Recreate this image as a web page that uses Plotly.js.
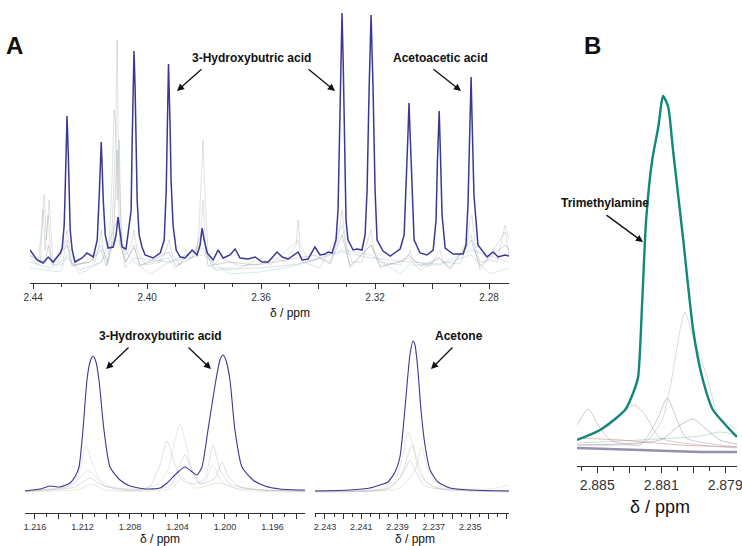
<!DOCTYPE html>
<html><head><meta charset="utf-8">
<script src="https://cdn.plot.ly/plotly-3.0.1.min.js"></script>
<style>html,body{margin:0;padding:0;background:#fff}#c{width:742px;height:546px}</style>
</head><body><div id="c"></div>
<script>
// ---------- Panel A (top) : 2.44 - 2.27 ppm, [ppm, intensity] ----------
const topBlue = [[2.4411,33],[2.4386,23],[2.4365,20],[2.4347,26],[2.4330,21],[2.4305,30],[2.4298,35],[2.4291,58],[2.4288,88],[2.4284,133],[2.4281,167],[2.4277,133],[2.4274,83],[2.4270,53],[2.4263,33],[2.4253,21],[2.4228,25],[2.4211,30],[2.4189,26],[2.4175,43],[2.4168,88],[2.4165,118],[2.4161,141],[2.4158,118],[2.4154,83],[2.4147,48],[2.4137,35],[2.4119,36],[2.4109,48],[2.4102,66],[2.4095,48],[2.4088,36],[2.4074,34],[2.4056,73],[2.4053,133],[2.4049,193],[2.4046,232],[2.4042,193],[2.4039,133],[2.4035,83],[2.4028,48],[2.4018,36],[2.4007,28],[2.3979,25],[2.3954,30],[2.3940,43],[2.3933,93],[2.3930,143],[2.3925,219],[2.3919,153],[2.3916,103],[2.3909,58],[2.3898,33],[2.3884,26],[2.3867,25],[2.3842,33],[2.3825,28],[2.3814,38],[2.3807,55],[2.3800,43],[2.3789,30],[2.3768,23],[2.3751,33],[2.3733,25],[2.3709,28],[2.3691,34],[2.3674,25],[2.3646,24],[2.3621,26],[2.3596,21],[2.3575,21],[2.3544,31],[2.3526,26],[2.3505,24],[2.3470,31],[2.3456,23],[2.3435,24],[2.3411,36],[2.3393,28],[2.3375,29],[2.3365,31],[2.3351,30],[2.3337,43],[2.3330,73],[2.3325,133],[2.3319,223],[2.3316,270],[2.3312,223],[2.3307,133],[2.3302,63],[2.3295,43],[2.3277,33],[2.3263,34],[2.3246,33],[2.3235,48],[2.3228,93],[2.3221,193],[2.3214,268],[2.3207,193],[2.3200,93],[2.3193,43],[2.3172,32],[2.3147,27],[2.3130,30],[2.3112,34],[2.3098,48],[2.3091,93],[2.3084,153],[2.3081,180],[2.3077,153],[2.3070,88],[2.3063,43],[2.3042,30],[2.3018,28],[2.2996,33],[2.2986,63],[2.2981,123],[2.2975,172],[2.2970,123],[2.2965,68],[2.2954,35],[2.2926,29],[2.2891,29],[2.2881,38],[2.2874,78],[2.2867,163],[2.2863,206],[2.2860,168],[2.2853,88],[2.2839,38],[2.2807,26],[2.2786,31],[2.2768,26],[2.2744,28],[2.2730,27]];

const topG1 = [[2.4411,28],[2.4375,21],[2.4365,73],[2.4358,33],[2.4347,68],[2.4337,21],[2.4312,21],[2.4291,38],[2.4281,53],[2.4270,33],[2.4253,18],[2.4218,21],[2.4200,25],[2.4182,21],[2.4168,38],[2.4161,53],[2.4154,33],[2.4137,21],[2.4126,33],[2.4119,83],[2.4112,133],[2.4105,243],[2.4102,153],[2.4095,83],[2.4088,38],[2.4074,28],[2.4056,38],[2.4046,53],[2.4035,33],[2.4007,18],[2.3954,21],[2.3933,33],[2.3923,43],[2.3912,28],[2.3884,18],[2.3863,33],[2.3849,25],[2.3828,28],[2.3818,53],[2.3807,123],[2.3804,143],[2.3796,83],[2.3786,28],[2.3765,18],[2.3744,25],[2.3709,21],[2.3674,17],[2.3604,19],[2.3551,25],[2.3516,21],[2.3477,38],[2.3470,63],[2.3463,38],[2.3428,21],[2.3393,25],[2.3358,21],[2.3330,43],[2.3316,73],[2.3302,38],[2.3281,21],[2.3246,21],[2.3225,43],[2.3214,53],[2.3204,33],[2.3182,21],[2.3112,18],[2.3084,28],[2.3077,33],[2.3070,23],[2.3007,17],[2.2982,28],[2.2972,33],[2.2961,21],[2.2902,19],[2.2877,38],[2.2867,63],[2.2860,68],[2.2849,38],[2.2832,21],[2.2796,23],[2.2772,21],[2.2744,58],[2.2730,43]];

const topG2 = [[2.4411,25],[2.4382,18],[2.4361,88],[2.4354,43],[2.4344,83],[2.4330,18],[2.4298,18],[2.4281,43],[2.4263,18],[2.4200,21],[2.4161,38],[2.4137,18],[2.4123,103],[2.4116,173],[2.4109,158],[2.4105,83],[2.4098,143],[2.4091,53],[2.4077,21],[2.4046,35],[2.4025,18],[2.3926,25],[2.3902,15],[2.3814,38],[2.3804,83],[2.3793,33],[2.3772,15],[2.3674,15],[2.3596,25],[2.3568,18],[2.3470,43],[2.3456,21],[2.3393,15],[2.3316,58],[2.3288,15],[2.3214,38],[2.3182,15],[2.3081,25],[2.3042,13],[2.2975,25],[2.2937,13],[2.2863,48],[2.2832,13],[2.2744,51],[2.2730,28]];

const topG3 = [[2.4411,15],[2.4305,11],[2.4281,28],[2.4235,9],[2.4161,21],[2.4105,43],[2.4046,21],[2.3989,9],[2.3923,21],[2.3804,28],[2.3709,9],[2.3604,11],[2.3470,18],[2.3316,33],[2.3214,28],[2.3112,9],[2.3081,18],[2.2975,18],[2.2863,28],[2.2796,9],[2.2730,15]];

const topG4 = [[2.4411,27],[2.4358,21],[2.4347,38],[2.4333,18],[2.4281,38],[2.4263,17],[2.4200,21],[2.4161,33],[2.4144,17],[2.4119,43],[2.4105,133],[2.4095,38],[2.4074,21],[2.4046,38],[2.4025,17],[2.3923,31],[2.3898,17],[2.3842,25],[2.3804,53],[2.3786,17],[2.3709,21],[2.3621,18],[2.3551,21],[2.3470,25],[2.3411,28],[2.3358,19],[2.3316,48],[2.3288,17],[2.3214,38],[2.3182,17],[2.3112,21],[2.3081,28],[2.3042,17],[2.2975,25],[2.2937,15],[2.2863,43],[2.2832,17],[2.2744,38],[2.2730,33]];

const topG5 = [[2.4411,21],[2.4340,15],[2.4281,25],[2.4235,13],[2.4161,21],[2.4105,63],[2.4077,15],[2.4046,25],[2.3923,21],[2.3804,35],[2.3761,13],[2.3604,15],[2.3470,19],[2.3316,31],[2.3214,25],[2.3081,21],[2.2975,19],[2.2863,33],[2.2730,21]];

const topTickVals = [2.44,2.42,2.40,2.38,2.36,2.34,2.32,2.30,2.28];
const topTickText = ['2.44','','2.40','','2.36','','2.32','','2.28'];

// ---------- Bottom left : 1.217 - 1.193 ppm ----------
const blPpm = [1.21684,1.21558,1.21474,1.21389,1.21305,1.21255,1.21229,1.21196,1.21162,1.21137,1.21112,1.21086,1.21061,1.21019,1.20968,1.20884,1.20800,1.20674,1.20547,1.20488,1.20404,1.20337,1.20286,1.20236,1.20194,1.20143,1.20076,1.20042,1.20017,1.19992,1.19958,1.19916,1.19857,1.19764,1.19663,1.19537,1.19326];
const blBlue = [22,24,27,26,30,38,46,83,133,151,157,151,133,83,46,33,27,24,25,30,40,46,42,38,46,83,133,153,158,153,133,83,46,33,27,24,23];
const blG1Ppm = [1.21684,1.21389,1.21288,1.21221,1.21171,1.21120,1.21053,1.20952,1.20716,1.20564,1.20480,1.20421,1.20379,1.20337,1.20278,1.20211,1.20160,1.20109,1.20076,1.20025,1.19916,1.19326];
const blG1 = [22,24,29,43,68,51,33,26,24,29,43,73,89,73,43,30,33,48,43,31,25,22];
const blG2Ppm = [1.21684,1.21305,1.21221,1.21154,1.21095,1.21011,1.20716,1.20632,1.20547,1.20488,1.20429,1.20362,1.20253,1.20168,1.20101,1.20042,1.19958,1.19705,1.19326];
const blG2 = [22,27,35,43,37,27,23,27,48,72,51,33,29,35,68,43,29,23,22];
const blG3Ppm = [1.21684,1.21263,1.21137,1.21053,1.20884,1.20463,1.20379,1.20337,1.20278,1.20211,1.20084,1.20025,1.19975,1.19874,1.19326];
const blG3 = [22,26,35,29,23,27,48,58,43,29,35,51,37,26,22];
const blG4Ppm = [1.21684,1.21221,1.21120,1.21011,1.20463,1.20354,1.20253,1.20042,1.19874,1.19326];
const blG4 = [21,24,29,23,24,35,25,30,23,21];
const blTickVals = [1.216,1.214,1.212,1.210,1.208,1.206,1.204,1.202,1.200,1.198,1.196,1.194];
const blTickText = ['1.216','','1.212','','1.208','','1.204','','1.200','','1.196',''];

// ---------- Bottom middle : 2.2436 - 2.2329 ppm ----------
const bmPpm = [2.24355,2.24162,2.24052,2.23997,2.23953,2.23914,2.23887,2.23865,2.23848,2.23832,2.23815,2.23804,2.23788,2.23771,2.23749,2.23721,2.23677,2.23611,2.23501,2.23286];
const bmBlue = [22,23,25,28,31,41,56,93,128,158,172,168,143,103,68,43,31,25,23,22];
const bmG1Ppm = [2.24355,2.23997,2.23914,2.23870,2.23843,2.23815,2.23777,2.23694,2.23286];
const bmG1 = [22,24,33,58,81,68,38,26,22];
const bmG2Ppm = [2.24355,2.23969,2.23887,2.23843,2.23821,2.23788,2.23744,2.23666,2.23286];
const bmG2 = [22,24,35,58,68,51,31,24,22];
const bmG3Ppm = [2.24355,2.23942,2.23859,2.23832,2.23799,2.23749,2.23286];
const bmG3 = [21,25,43,53,41,27,21];
const bmG4Ppm = [2.24355,2.23887,2.23804,2.23766,2.23733,2.23666,2.23391,2.23286];
const bmG4 = [22,25,43,66,43,27,24,28];
const bmTickVals = [2.243,2.242,2.241,2.240,2.239,2.238,2.237,2.236,2.235,2.234,2.233];
const bmTickText = ['2.243','','2.241','','2.239','','2.237','','2.235','',''];

// ---------- Panel B : trimethylamine ----------
const bPpm = [2.88363,2.88291,2.88213,2.88184,2.88172,2.88159,2.88147,2.88128,2.88109,2.88100,2.88094,2.88078,2.88063,2.88031,2.88000,2.87972,2.87938,2.87884,2.87863];
const bTeal = [26,36,56,76,89,166,246,306,339,361,370,359,316,226,136,89,56,36,29];
const bG1Ppm = [2.88363,2.88150,2.88097,2.88066,2.88041,2.88025,2.88003,2.87956,2.87922,2.87863];
const bG1 = [21,24,46,89,136,154,131,89,51,36];
const bG2Ppm = [2.88363,2.88328,2.88297,2.88259,2.88166,2.88113,2.88081,2.88050,2.88022,2.87863];
const bG2 = [41,57,41,26,21,46,68,46,28,19];
const bG3Ppm = [2.88363,2.88259,2.88203,2.88181,2.88150,2.88103,2.87978,2.87863];
const bG3 = [26,41,58,61,51,28,21,18];
const bG4Ppm = [2.88363,2.88103,2.88041,2.88000,2.87963,2.87916,2.87863];
const bG4 = [21,26,41,47,38,26,22];
const bG5Ppm = [2.88363,2.88228,2.88041,2.87863];
const bG5 = [28,26,21,19];
const bG6Ppm = [2.88363,2.88166,2.87978,2.87863];
const bG6 = [18,16,14,14];
const bG7Ppm = [2.88363,2.88166,2.87978,2.87916,2.87863];
const bG7 = [23,26,30,34,31];
const bTickVals = [2.883,2.882,2.881,2.880,2.879];
const bTickText = ['2.885','','2.881','','2.879'];

// ---------- build ----------
function tr(x, y, ax, color, width, shape){
  return {x:x, y:y, xaxis:'x'+ax, yaxis:'y'+ax, type:'scatter', mode:'lines',
    line:{color:color, width:width, shape:shape||'linear', smoothing:0.6}, hoverinfo:'skip'};
}
function trp(pairs, ax, color, width, shape){
  return tr(pairs.map(p=>p[0]), pairs.map(p=>p[1]), ax, color, width, shape);
}
const BLUE = '#3b3894', TEAL = '#138878';
const data = [
  trp(topG3, '', 'rgba(140,195,200,0.45)', 0.8),
  trp(topG5, '', 'rgba(150,170,200,0.45)', 0.8),
  trp(topG2, '', 'rgba(140,175,150,0.4)', 0.8),
  trp(topG4, '', 'rgba(150,130,150,0.45)', 0.8),
  trp(topG1, '', 'rgba(130,120,140,0.3)', 0.8),
  trp(topBlue, '', BLUE, 1.5),
  tr(blG4Ppm, blG4, '2', 'rgba(170,190,120,0.4)', 0.7, 'spline'),
  tr(blG3Ppm, blG3, '2', 'rgba(140,140,150,0.4)', 0.7, 'spline'),
  tr(blG2Ppm, blG2, '2', 'rgba(170,140,170,0.4)', 0.7, 'spline'),
  tr(blG1Ppm, blG1, '2', 'rgba(175,175,185,0.4)', 0.7, 'spline'),
  tr(blPpm, blBlue, '2', BLUE, 1.1, 'spline'),
  tr(bmG4Ppm, bmG4, '3', 'rgba(170,190,120,0.4)', 0.7, 'spline'),
  tr(bmG3Ppm, bmG3, '3', 'rgba(140,140,150,0.4)', 0.7, 'spline'),
  tr(bmG2Ppm, bmG2, '3', 'rgba(170,140,170,0.4)', 0.7, 'spline'),
  tr(bmG1Ppm, bmG1, '3', 'rgba(175,175,185,0.4)', 0.7, 'spline'),
  tr(bmPpm, bmBlue, '3', BLUE, 1.1, 'spline'),
  tr(bG7Ppm, bG7, '4', 'rgba(120,190,140,0.5)', 0.9, 'spline'),
  tr(bG5Ppm, bG5, '4', 'rgba(190,110,90,0.5)', 0.9, 'spline'),
  tr(bG6Ppm, bG6, '4', 'rgba(80,70,110,0.6)', 2.5, 'spline'),
  tr(bG4Ppm, bG4, '4', 'rgba(150,110,160,0.5)', 0.9, 'spline'),
  tr(bG3Ppm, bG3, '4', 'rgba(160,150,160,0.5)', 0.9, 'spline'),
  tr(bG2Ppm, bG2, '4', 'rgba(170,130,170,0.5)', 0.9, 'spline'),
  tr(bG1Ppm, bG1, '4', 'rgba(170,190,175,0.55)', 0.9, 'spline'),
  tr(bPpm, bTeal, '4', TEAL, 2.4, 'spline')
];

const FONT = 'Liberation Sans, Arial, Helvetica, sans-serif';
function xax(domain, range, tv, tt, minorD, fs, tl){
  return {domain:domain, range:range, showgrid:false, zeroline:false, showline:true,
    linecolor:'#333', linewidth:1.3, ticks:'outside', ticklen:tl||5, tickwidth:1, tickcolor:'#333',
    tickmode:'array', tickvals:tv, ticktext:tt, tickfont:{family:FONT, size:fs||10, color:'#333'},
    ticklabeloverflow:'allow',
    minor:{ticks:'outside', ticklen:(tl||5)-2, tickwidth:1, tickcolor:'#333', dtick:minorD, tick0:tv[0], showgrid:false},
    fixedrange:true};
}
function yax(domain, range, anchor){
  return {domain:domain, range:range, visible:false, showgrid:false, zeroline:false, anchor:anchor, fixedrange:true};
}
function P(px){return px/742;} function Q(py){return 1-py/546;}

const layout = {
  width:742, height:546, margin:{l:0,r:0,t:0,b:0}, paper_bgcolor:'#fff', plot_bgcolor:'rgba(0,0,0,0)',
  showlegend:false,
  xaxis: Object.assign(xax([P(30),P(509)], [2.4411,2.2730], topTickVals, topTickText, 0.01, 10), {anchor:'y'}),
  yaxis: yax([Q(283),1], [0,283], 'x'),
  xaxis2: Object.assign(xax([P(25),P(305)], [1.21684,1.19326], blTickVals, blTickText, 0.001, 9), {anchor:'y2'}),
  yaxis2: yax([Q(513),Q(330)], [0,183], 'x2'),
  xaxis3: Object.assign(xax([P(315),P(509)], [2.24355,2.23286], bmTickVals, bmTickText, 0.0005, 9), {anchor:'y3'}),
  yaxis3: yax([Q(513),Q(330)], [0,183], 'x3'),
  xaxis4: Object.assign(xax([P(577),P(737)], [2.88363,2.87863], bTickVals, bTickText, 0.0005, 14, 6), {anchor:'y4'}),
  yaxis4: yax([Q(466),Q(80)], [0,386], 'x4'),
  annotations: []
};
function txt(t, px, py, size, bold){
  layout.annotations.push({xref:'paper', yref:'paper', x:P(px), y:Q(py), xanchor:'center', yanchor:'middle',
    text: bold ? '<b>'+t+'</b>' : t, showarrow:false, font:{family:FONT, size:size, color:'#111'}});
}
function arr(tx, ty, hx, hy){
  layout.annotations.push({xref:'paper', yref:'paper', x:P(hx), y:Q(hy), ax:tx-hx, ay:ty-hy, text:'',
    showarrow:true, arrowhead:2, arrowsize:1.1, arrowwidth:1.3, arrowcolor:'#111'});
}
txt('A', 15, 45, 24, true);
txt('B', 592, 45, 24, true);
txt('3-Hydroxybutric acid', 251, 58, 12, true);
arr(203, 68, 177, 91); arr(307, 68, 335, 91);
txt('Acetoacetic acid', 440, 58, 12, true);
arr(432, 68, 461, 91);
txt('3-Hydroxybutiric acid', 160, 336, 12, true);
arr(130, 346, 106, 369); arr(187, 346, 211, 369);
txt('Acetone', 459, 336, 12, true);
arr(454, 346, 431, 369);
txt('Trimethylamine', 605, 203, 12, true);
arr(605, 214, 643, 242);
txt('δ / ppm', 290, 313, 12, false);
txt('δ / ppm', 160, 539, 12, false);
txt('δ / ppm', 415, 539, 12, false);
txt('δ / ppm', 660, 507, 18, false);

Plotly.newPlot('c', data, layout, {staticPlot:true, displayModeBar:false});
</script></body></html>
